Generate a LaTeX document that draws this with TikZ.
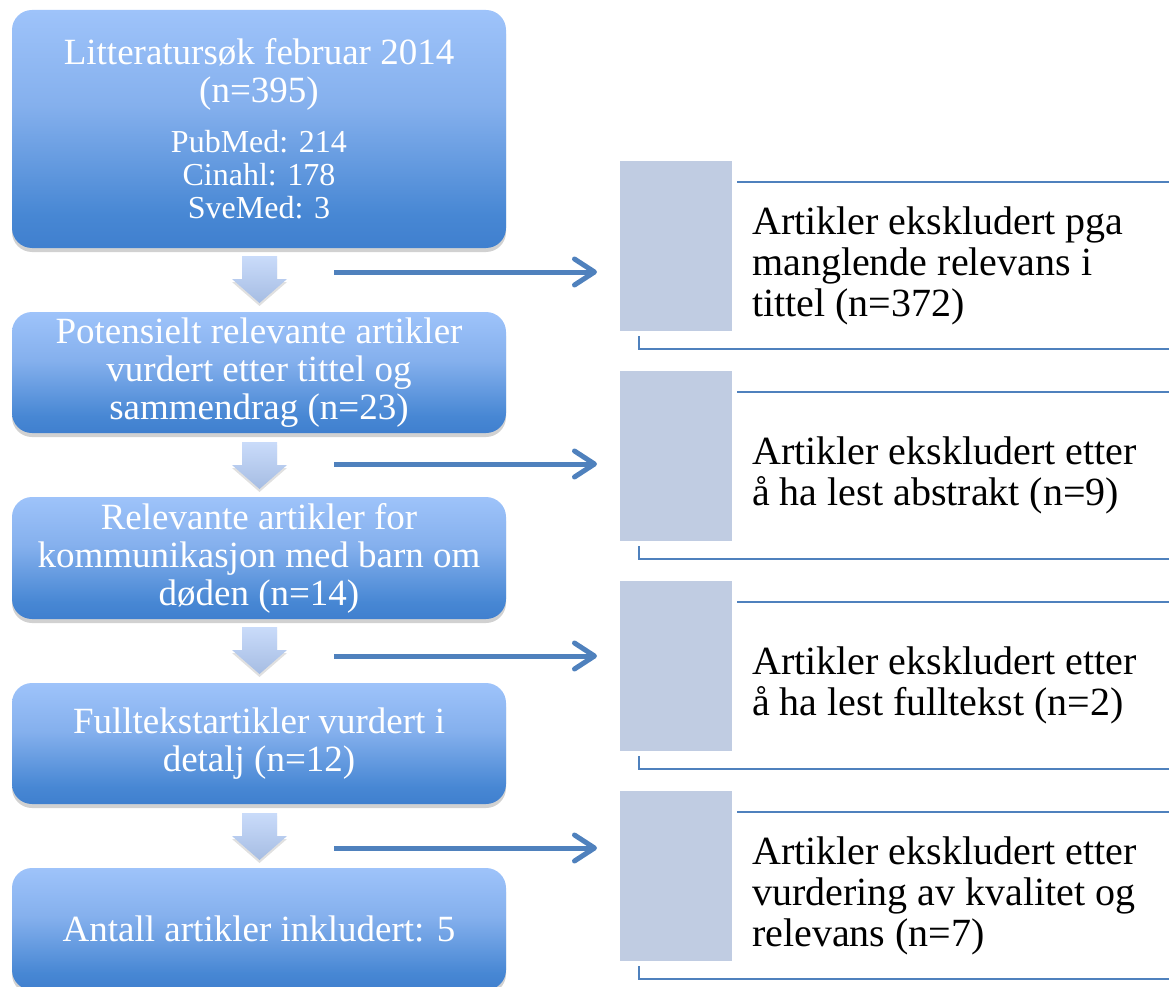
\documentclass[tikz,border=0pt]{standalone}
\usepackage{fontspec}
\setmainfont{Liberation Serif}
\usetikzlibrary{arrows.meta,shadows}
\definecolor{lineblue}{HTML}{4F81BD}
\definecolor{panelgray}{HTML}{C0CCE2}
\pgfdeclareverticalshading{boxshade}{100bp}{rgb(0bp)=(0.25,0.5,0.81); rgb(25bp)=(0.25,0.5,0.81); rgb(32bp)=(0.28,0.53,0.83); rgb(55bp)=(0.52,0.69,0.93); rgb(75bp)=(0.62,0.765,0.98); rgb(100bp)=(0.62,0.765,0.98)}
\pgfdeclareverticalshading{arrowshade}{100bp}{rgb(0bp)=(0.65,0.74,0.89); rgb(25bp)=(0.65,0.74,0.89); rgb(75bp)=(0.79,0.86,0.98); rgb(100bp)=(0.79,0.86,0.98)}
\newcommand\dbfont{\fontsize{32}{33}\selectfont}
\begin{document}
\begin{tikzpicture}[x=1pt,y=-1pt,
  leftbox/.style={rounded corners=20pt, shading=boxshade, minimum width=494pt, inner sep=0pt,
    text=white, align=center, font=\fontsize{37}{38}\selectfont,
    drop shadow={fill=black, opacity=0.18, shadow xshift=0pt, shadow yshift=-4pt}},
  downarrow/.style={shade, shading=arrowshade,
    drop shadow={fill=black, opacity=0.12, shadow xshift=0pt, shadow yshift=-3pt}},
  rarrow/.style={draw=lineblue, line width=5pt, -{Straight Barb[length=20pt,width=26pt,round]}},
  panelrect/.style={fill=panelgray, draw=none, minimum width=112pt, minimum height=170pt, inner sep=0pt},
  paneltext/.style={anchor=west, inner sep=0pt, align=left, font=\fontsize{40}{41}\selectfont},
  panelline/.style={draw=lineblue, line width=2.2pt}
]
\useasboundingbox (0,0) rectangle (1169,987);

% left boxes
\node[leftbox, minimum height=238pt] (b1) at (259,129)
  {Litteratursøk februar 2014\\(n=395)\\[12pt]{\dbfont PubMed: 214}\\[-5pt]{\dbfont Cinahl: 178}\\[-5pt]{\dbfont SveMed: 3}};
\node[leftbox, minimum height=121pt] (b2) at (259,372.5)
  {Potensielt relevante artikler\\vurdert etter tittel og\\sammendrag (n=23)};
\node[leftbox, minimum height=122pt] (b3) at (259,558)
  {Relevante artikler for\\kommunikasjon med barn om\\døden (n=14)};
\node[leftbox, minimum height=121pt] (b4) at (259,743.5)
  {Fulltekstartikler vurdert i\\detalj (n=12)};
\node[leftbox, minimum height=122pt] (b5) at (259,929)
  {Antall artikler inkludert: 5};

% down arrows
\foreach \t in {256,442,627,813}{
  \path[downarrow] (242,\t) -- (277,\t) -- (277,\t+23) -- (287,\t+23) -- (259.5,\t+47)
    -- (232,\t+23) -- (242,\t+23) -- cycle;
}

% right arrows
\coordinate (r1s) at (334,272); \coordinate (r1e) at (597,272);
\coordinate (r2s) at (334,464); \coordinate (r2e) at (597,464);
\coordinate (r3s) at (334,656); \coordinate (r3e) at (597,656);
\coordinate (r4s) at (334,848); \coordinate (r4e) at (597,848);
\draw[rarrow] (r1s) -- (r1e);
\draw[rarrow] (r2s) -- (r2e);
\draw[rarrow] (r3s) -- (r3e);
\draw[rarrow] (r4s) -- (r4e);

% panels
\foreach \i/\o in {1/0,2/210,3/420,4/630}{
  \node[panelrect] (g\i) at (676,246+\o) {};
  \coordinate (ts\i) at (737,182+\o);
  \coordinate (te\i) at (1172,182+\o);
  \coordinate (bs\i) at (639,336+\o);
  \coordinate (be\i) at (1172,349+\o);
  \draw[panelline] (ts\i) -- (te\i);
  \draw[panelline] (bs\i) |- (be\i);
}
\node[paneltext] (p1) at (752,265.5) {Artikler ekskludert pga\\manglende relevans i\\tittel (n=372)};
\node[paneltext] (p2) at (752,475.5) {Artikler ekskludert etter\\å ha lest abstrakt (n=9)};
\node[paneltext] (p3) at (752,685.5) {Artikler ekskludert etter\\å ha lest fulltekst (n=2)};
\node[paneltext] (p4) at (752,895.5) {Artikler ekskludert etter\\vurdering av kvalitet og\\relevans (n=7)};
\end{tikzpicture}
\end{document}
